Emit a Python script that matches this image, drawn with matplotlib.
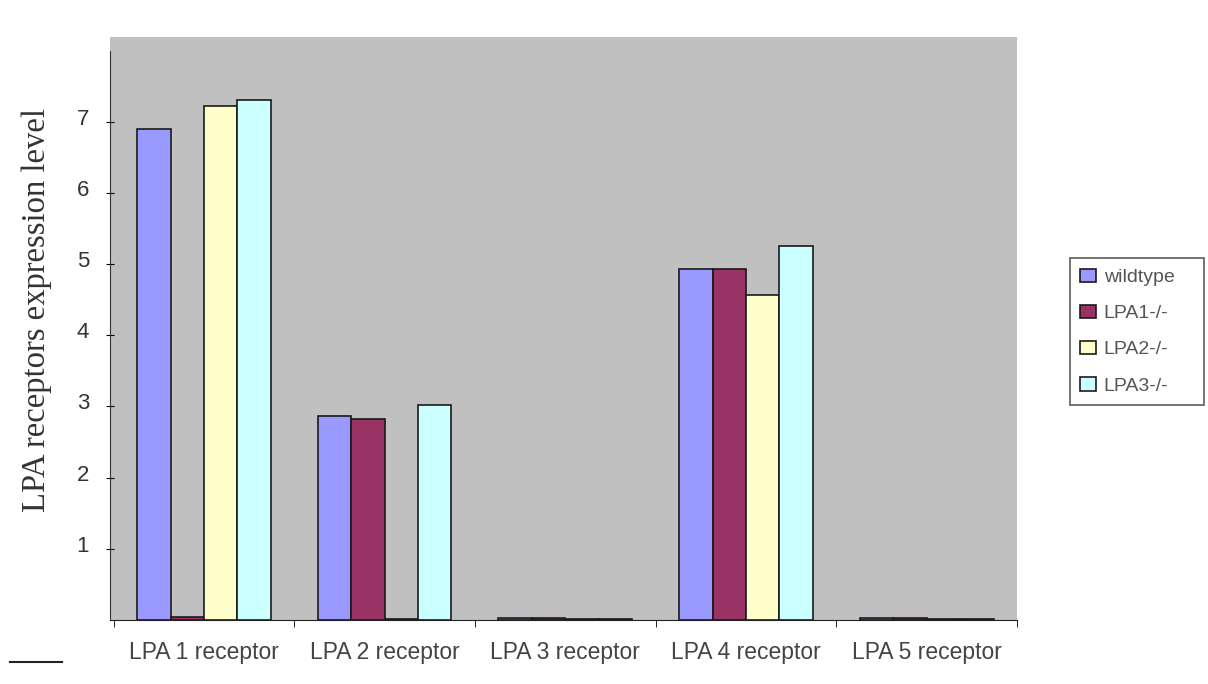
import matplotlib.pyplot as plt
import matplotlib.transforms as mtransforms
import numpy as np

categories = ["LPA 1 receptor", "LPA 2 receptor", "LPA 3 receptor", "LPA 4 receptor", "LPA 5 receptor"]
series_names = ["wildtype", "LPA1-/-", "LPA2-/-", "LPA3-/-"]
wildtype = [6.90, 2.87, 0.03, 4.93, 0.03]
lpa1_ko = [0.04, 2.83, 0.03, 4.93, 0.03]
lpa2_ko = [7.22, 0.02, 0.02, 4.57, 0.02]
lpa3_ko = [7.30, 3.02, 0.02, 5.25, 0.02]
y_ticks = [1, 2, 3, 4, 5, 6, 7]

colors = ["#9999FF", "#993366", "#FFFFCC", "#CCFFFF"]
sans = "Liberation Sans"

fig = plt.figure(figsize=(12.08, 6.84), dpi=100)
fig.patch.set_facecolor("white")
ax = fig.add_axes([110 / 1208, 64 / 684, 907 / 1208, 583 / 684])
ax.set_facecolor("#C0C0C0")

x = np.arange(len(categories))
w = 0.185
for i, vals in enumerate([wildtype, lpa1_ko, lpa2_ko, lpa3_ko]):
    ax.bar(x + (i - 1.5) * w, vals, w, color=colors[i], edgecolor="#1a1a1a",
           linewidth=1.2, label=series_names[i])

ax.set_xlim(-0.52, len(categories) - 0.52)
ax.set_ylim(0, 8.19)
ax.set_yticks(y_ticks)
ax.set_yticklabels([str(t) for t in y_ticks], fontsize=16, color="#333333", family=sans)
ax.set_xticks(np.arange(len(categories) + 1) - 0.5, minor=True)
ax.set_xticks(x)
ax.set_xticklabels(categories, fontsize=16.5, color="#444444", family=sans)
ax.tick_params(axis="x", which="major", length=0, pad=15)
ax.tick_params(axis="x", which="minor", length=5, direction="out")
ax.tick_params(axis="y", length=6, direction="inout", pad=12)
# tick labels sit a little above their ticks in the original
shift = mtransforms.ScaledTranslation(0, 5 / 100, fig.dpi_scale_trans)
for lab in ax.get_yticklabels():
    lab.set_transform(lab.get_transform() + shift)
for s in ["top", "right"]:
    ax.spines[s].set_visible(False)
ax.spines["left"].set_bounds(0, 8)
ax.spines["left"].set_color("#333333")
ax.spines["bottom"].set_color("#222222")

ax.set_ylabel("LPA receptors expression level", family="Liberation Serif",
              fontsize=23.5, color="#333333")
ax.yaxis.set_label_coords(-0.064, (620 - 310) / 583)

leg = ax.legend(loc="upper left", bbox_to_anchor=(1.058, 0, 0.148, 0.621),
                mode="expand", frameon=True, fancybox=False,
                prop={"family": sans, "size": 14},
                handlelength=0.8, handleheight=0.7, handletextpad=0.4,
                borderpad=0.55, labelspacing=0.95, borderaxespad=0,
                labelcolor="#555555")
leg.get_frame().set_edgecolor("#333333")
leg.get_frame().set_linewidth(1.2)

fig.add_artist(plt.Line2D([10 / 1208, 62 / 1208], [1 - 662 / 684, 1 - 662 / 684],
                          color="#222222", linewidth=1.5))

fig.savefig("out.png", dpi=100)
